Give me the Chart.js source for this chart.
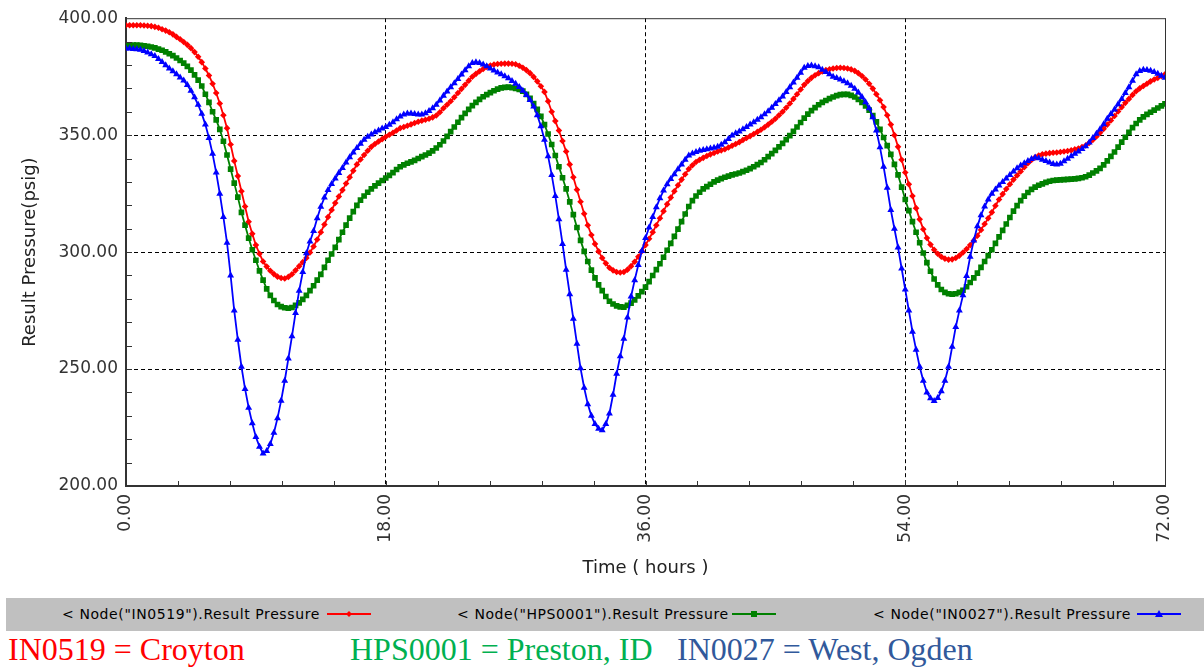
<!DOCTYPE html>
<html><head><meta charset="utf-8">
<script src="https://cdn.jsdelivr.net/npm/chart.js@4/dist/chart.umd.min.js"></script>
<style>
html,body{margin:0;padding:0;background:#fff;width:1204px;height:671px;overflow:hidden;position:relative;}
#wrap{position:absolute;left:0;top:0;width:1204px;height:590px;}
#legend{position:absolute;left:6px;top:598px;width:1198px;height:33px;background:#c0c0c0;}
.li{position:absolute;top:0;height:33px;line-height:33px;font-family:"DejaVu Sans";font-size:14px;letter-spacing:0.6px;color:#000;white-space:nowrap;}
.cap{position:absolute;top:631px;font-family:"Liberation Serif";font-size:32px;line-height:36px;white-space:nowrap;}
</style>
</head><body>
<div id="wrap"><canvas id="c" width="1204" height="590"></canvas></div>
<div id="legend"></div>
<div class="cap" style="left:8px;color:#ff0000">IN0519 = Croyton</div>
<div class="cap" style="left:350px;color:#00b050">HPS0001 = Preston, ID</div>
<div class="cap" style="left:677px;color:#31599b">IN0027 = West, Ogden</div>
<script>
// Time step of the samples (hours); each row below holds one hour (4 samples)
const STEP_HOURS = 0.25;
// IN0519 (Croyton) result pressure, psig
const in0519 = [
397,397,397,397,
397,396.9,396.8,396.6,
396.3,395.9,395.3,394.7,
394,393.1,392,391,
389.8,388.6,387.2,385.5,
383.5,381.2,378.5,375.5,
372,368,363.5,358.5,
353,346,339,332.5,
326,319.5,313,307.8,
303,299.3,296,293.8,
292,290.6,289.5,288.9,
288.7,289.4,290.5,292.2,
294,295.7,297.5,299.8,
302.4,305.4,308.5,311.8,
315,318,321,323.8,
326.5,329.3,332,334.8,
337.5,339.6,341.5,343.3,
345,346.2,347.3,348.3,
349.3,350.2,351,352,
353,353.5,354,354.6,
355.2,355.7,356.2,356.6,
357,357.6,358.4,359.8,
361.5,363,364.5,366.2,
368,369.8,371.5,373.3,
375,376.2,377.3,378.3,
379.2,379.8,380.2,380.4,
380.5,380.6,380.6,380.5,
380.3,379.7,378.8,377.8,
376.5,374.9,373,370.9,
368.5,364.5,360,356,
352,347.5,343,337.5,
332,326.7,321.5,316.4,
311.5,307.3,303.5,300.3,
297.5,295.2,293.3,292.2,
291.5,291.3,291.5,292.5,
294,295.9,298,300.4,
303,305.7,308.5,311.5,
314.5,317.5,320.5,323.3,
326,328.6,331,333.3,
335.5,337.1,338.5,339.5,
340.3,341.1,341.8,342.4,
343,343.5,344,344.7,
345.5,346.2,347,347.9,
348.8,349.6,350.5,351.4,
352.3,353.4,354.5,355.7,
357,358.5,360,361.7,
363.5,365.5,367.5,369.5,
371.5,373.1,374.5,375.6,
376.5,377.2,377.8,378.2,
378.5,378.7,378.8,378.7,
378.5,378.1,377.5,376.5,
375.3,373.8,372,369.9,
367.5,364.9,362,358.5,
354.5,350,345,339.5,
334,329,324,318.8,
314,309.8,306,303.2,
301,299.3,298,297.2,
296.8,296.9,297.5,298.5,
299.8,301.3,303,304.9,
307,309.5,312,314.5,
317,319.8,322.5,324.8,
327,329,331,332.8,
334.5,336.3,338,339.4,
340.5,341.3,341.8,342.1,
342.3,342.5,342.6,342.8,
343,343.2,343.5,343.9,
344.3,344.9,345.6,346.7,
348,349.4,351,352.7,
354.5,356.3,358.2,360.1,
362,363.8,365.5,367.2,
368.8,370,371,372,
373,373.8,374.5,375.3,
376
];
// HPS0001 (Preston, ID) result pressure, psig
const hps0001 = [
388.5,388.5,388.5,388.5,
388.4,388.2,388,387.7,
387.3,386.8,386.3,385.6,
384.8,384,383,381.9,
380.8,379.4,377.8,375.8,
373.5,371,367.5,364,
360,356.5,352.5,347.4,
341.5,335.5,329.5,323.5,
317,311.5,306,301,
296.5,292,288,284.3,
281.5,279.3,277.6,276.7,
276.2,276,276.3,277.2,
278.3,279.8,281.5,283.5,
285.6,288,290.5,293.5,
296.5,299.2,302,305.3,
308.5,311.5,314.5,317.3,
320,322.2,324,325.6,
327,328.3,329.5,330.6,
331.7,332.8,334,335.3,
336.5,337.3,338,338.6,
339.2,340,340.8,341.5,
342.3,343.3,344.5,345.9,
347.5,349.5,351.5,353.5,
355.5,357.5,359.3,361,
362.6,364,365.3,366.4,
367.3,368.2,369,369.7,
370.2,370.4,370.5,370.3,
370,369.5,368.8,367.4,
365.7,363.5,361,358,
354.5,350.5,346,341.3,
336.5,331.8,327,321.5,
316,310.5,305,300.3,
296,292.3,289,286,
283.5,281,279,277.8,
277,276.6,276.5,277.2,
278.2,279.6,281.3,283.1,
285,287.4,290,292.5,
295,297.8,300.8,303.7,
306.7,309.8,313,316.3,
319.5,322,324,325.6,
327,328,329,330,
330.8,331.4,332,332.5,
333,333.4,333.8,334.4,
335,335.7,336.5,337.4,
338.3,339.5,340.8,342.1,
343.5,345,346.5,348.1,
349.8,351.6,353.5,355.4,
357.3,359,360.5,361.8,
363,364,364.8,365.6,
366.3,366.9,367.3,367.4,
367.4,367,366.3,365.3,
364,362.5,360.7,358.4,
355.7,352.5,349,345.5,
341.8,337.5,333,327.8,
322.5,317.7,313,308.5,
304,299.6,295.5,291.8,
288.5,286,284,282.8,
282.2,282,282.2,282.8,
283.7,285.2,287,289,
291,293.5,296,298.5,
301,303.7,306.5,309.3,
312,314.8,317.5,319.9,
322,323.9,325.5,326.8,
327.8,328.6,329.2,329.8,
330.3,330.6,330.8,330.9,
331,331.1,331.2,331.3,
331.5,331.8,332.2,332.9,
333.8,334.7,335.8,337.3,
339,340.9,342.8,344.9,
347,349.1,351.2,353.2,
355,356.5,357.8,358.9,
359.8,360.7,361.6,362.5,
363.4
];
// IN0027 (West, Ogden) result pressure, psig
const in0027 = [
387,387,386.8,386.7,
386.5,386,385.3,384.6,
383.8,382.6,381.3,379.9,
378.5,377.3,376,374.7,
373.4,371.4,369,366.2,
363,359.2,354.5,348.8,
342,334,325,315,
304,290,275,262.5,
251,241.5,233.5,226.8,
221,216.8,213.9,215,
218,222.8,229,236.5,
245,254.5,264,274,
283.5,291.5,299.5,304.5,
309,314.5,319.4,323.3,
326.5,329.1,331.5,333.8,
336,338.3,340.5,342.6,
344.5,346.3,348,349.3,
350.3,351.2,352,352.8,
353.5,354.4,355.5,356.8,
358,358.8,359.3,359.3,
359,358.8,358.8,359.4,
360.3,361.5,363,364.8,
366.8,368.7,370.5,372.2,
374,375.9,377.8,379.5,
380.8,381.2,380.8,380.2,
379.5,378.5,377.6,376.8,
376,375.2,374.3,373.2,
372,370.6,369,367.2,
365,362.2,358.5,353.8,
348,341,333,324,
314,303.5,292.5,282,
271.5,260.8,250.3,242,
235,230,226.5,224.5,
223.8,226.5,231,239,
248,255.5,263,272,
281,288,294.5,300.5,
306,310.5,315,319.2,
323,326.3,329,331.3,
333.3,335.4,337.5,339.5,
341.3,342.2,342.8,343.3,
343.7,344,344.3,344.6,
345,345.9,347,348.4,
349.8,350.8,351.6,352.5,
353.5,354.5,355.5,356.6,
357.7,358.9,360.2,361.7,
363.3,364.9,366.5,368.4,
370.5,372.5,374.5,376.7,
378.8,379.6,379.8,379.5,
379,378,377,376,
375,374.4,373.8,373,
372.2,371.1,369.8,368.2,
366.3,364.1,361.5,357.6,
352,344.8,336.5,327.5,
318,310,302,293,
284,275,266,258.3,
251,245,240,237.5,
236.3,237.6,240.5,245,
251,259.5,268,275,
281.5,289.8,298,305,
311,315.8,319.5,322.5,
325,326.8,328.5,330,
331.5,333,334.5,335.8,
337,338,339,339.8,
340.4,340.1,339.5,338.9,
338.3,337.7,337.4,337.8,
338.8,339.9,341,342,
343,344.1,345.3,346.9,
348.8,350.6,352.5,354.7,
357,359,361,363.2,
365.5,368,370.5,373.3,
376,377.4,378,377.9,
377.5,377,376.3,375.4,
374.5
];
const hours = in0519.map((_, i) => i * STEP_HOURS);
const xTicks = [0, 18, 36, 54, 72];
const yTicks = [200, 250, 300, 350, 400];
const seriesNames = ['< Node("IN0519").Result Pressure', '< Node("HPS0001").Result Pressure', '< Node("IN0027").Result Pressure'];
const seriesColors = ['#ff0000', '#008000', '#0000ff'];
const seriesStyles = ['rectRot', 'rect', 'triangle'];
const seriesRadius = [3.3, 4, 4];

const toXY = arr => arr.map((v, i) => ({x: hours[i], y: v}));
const FONT = 'DejaVu Sans';

const frameAndMinor = {
  id: 'frameAndMinor',
  afterDraw(chart) {
    const {ctx, chartArea: a, scales: {x, y}} = chart;
    ctx.save();
    ctx.strokeStyle = '#333';
    ctx.lineWidth = 1;
    ctx.beginPath();
    ctx.moveTo(a.left, a.top + 0.5); ctx.lineTo(a.right + 0.5, a.top + 0.5);
    ctx.moveTo(a.right + 0.5, a.top); ctx.lineTo(a.right + 0.5, a.bottom);
    for (let v = 3.6; v < 72; v += 3.6) {
      const px = Math.round(x.getPixelForValue(v)) + 0.5;
      ctx.moveTo(px, a.bottom); ctx.lineTo(px, a.bottom - 5);
    }
    for (let v = 210; v < 400; v += 10) {
      const py = Math.round(y.getPixelForValue(v)) + 0.5;
      ctx.moveTo(a.left, py); ctx.lineTo(a.left + 6, py);
    }
    ctx.stroke();
    ctx.restore();
  }
};

new Chart(document.getElementById('c'), {
  type: 'line',
  data: {
    datasets: [in0519, hps0001, in0027].map((arr, k) => ({
      label: seriesNames[k],
      data: toXY(arr),
      borderColor: seriesColors[k],
      backgroundColor: seriesColors[k],
      borderWidth: 1.8,
      pointStyle: seriesStyles[k],
      pointRadius: seriesRadius[k],
      pointBorderWidth: 0,
      tension: 0,
      order: [1, 2, 0][k]
    }))
  },
  options: {
    responsive: false,
    animation: false,
    layout: {padding: {left: 0, right: 39, top: 12, bottom: 0}},
    plugins: {legend: {display: false}, tooltip: {enabled: false}},
    scales: {
      x: {
        type: 'linear', min: 0, max: 72,
        afterBuildTicks: s => { s.ticks = xTicks.map(v => ({value: v})); },
        afterFit: s => { s.height = 104; },
        ticks: {maxRotation: 90, minRotation: 90, padding: 8, color: '#333',
          font: {family: FONT, size: 17}, callback: v => Number(v).toFixed(2)},
        grid: {drawTicks: false, lineWidth: 1,
          color: c => (c.tick && (c.tick.value === 0 || c.tick.value === 72)) ? 'rgba(0,0,0,0)' : '#000'},
        border: {display: true, color: '#333', width: 2, dash: [4, 3]},
        title: {display: true, text: 'Time ( hours )', color: '#222',
          font: {family: FONT, size: 18}, padding: {top: 0, bottom: 11}}
      },
      y: {
        min: 200, max: 400,
        afterBuildTicks: s => { s.ticks = yTicks.map(v => ({value: v})); },
        afterFit: s => { s.width = 126; },
        ticks: {padding: 8, color: '#333', font: {family: FONT, size: 17},
          callback: v => Number(v).toFixed(2)},
        grid: {drawTicks: false, lineWidth: 1,
          color: c => (c.tick && (c.tick.value === 200 || c.tick.value === 400)) ? 'rgba(0,0,0,0)' : '#000'},
        border: {display: true, color: '#333', width: 2, dash: [4, 3]},
        title: {display: true, text: 'Result Pressure(psig)', color: '#222',
          font: {family: FONT, size: 18}, padding: {top: 20, bottom: 0}}
      }
    }
  },
  plugins: [frameAndMinor]
});

// HTML legend bar
const legendPos = [{t: 56, l: 327}, {t: 451, l: 732}, {t: 867, l: 1137}];
const lg = document.getElementById('legend');
seriesNames.forEach((name, k) => {
  const d = document.createElement('div');
  d.className = 'li';
  d.style.left = legendPos[k].t + 'px';
  d.textContent = name;
  lg.appendChild(d);
  const w = 44;
  const svgNS = 'http://www.w3.org/2000/svg';
  const svg = document.createElementNS(svgNS, 'svg');
  svg.setAttribute('width', w); svg.setAttribute('height', 12);
  svg.style.position = 'absolute';
  svg.style.left = (legendPos[k].l - 6) + 'px';
  svg.style.top = '10px';
  const ln = document.createElementNS(svgNS, 'line');
  ln.setAttribute('x1', 0); ln.setAttribute('x2', w); ln.setAttribute('y1', 6); ln.setAttribute('y2', 6);
  ln.setAttribute('stroke', seriesColors[k]); ln.setAttribute('stroke-width', 2);
  svg.appendChild(ln);
  let m;
  if (k === 0) { m = document.createElementNS(svgNS, 'polygon'); m.setAttribute('points', '22,3 25,6 22,9 19,6'); }
  else if (k === 1) { m = document.createElementNS(svgNS, 'rect'); m.setAttribute('x', 19); m.setAttribute('y', 3); m.setAttribute('width', 6); m.setAttribute('height', 6); }
  else { m = document.createElementNS(svgNS, 'polygon'); m.setAttribute('points', '22,2 26,9 18,9'); }
  m.setAttribute('fill', seriesColors[k]);
  svg.appendChild(m);
  lg.appendChild(svg);
});
</script>
</body></html>
